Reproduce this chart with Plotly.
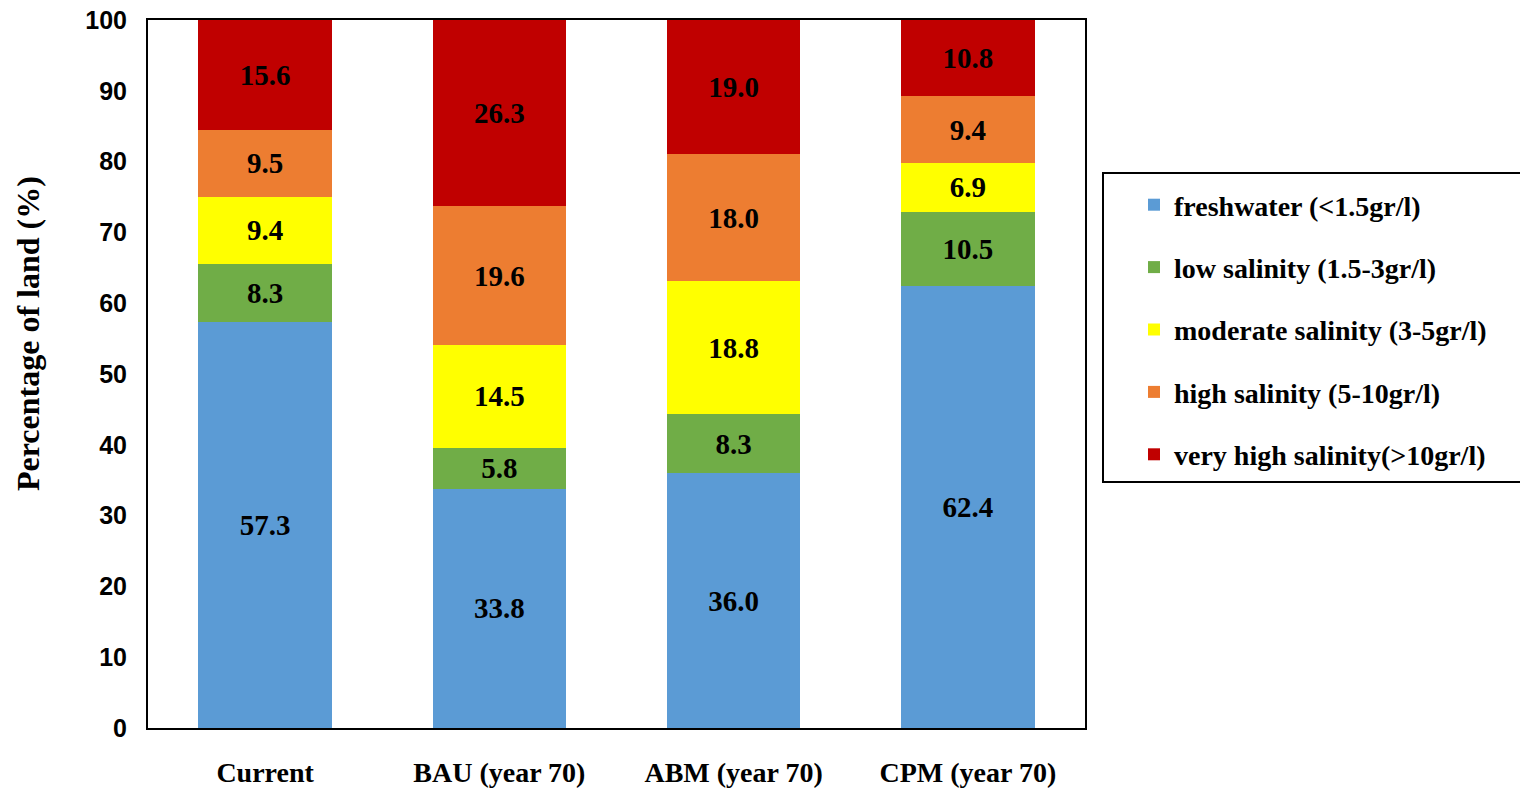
import plotly.graph_objects as go

# Scenario categories along the x axis
scenarios = ["Current", "BAU (year 70)", "ABM (year 70)", "CPM (year 70)"]

# Share of land (%) in each salinity class, per scenario
freshwater = [57.3, 33.8, 36.0, 62.4]
low_salinity = [8.3, 5.8, 8.3, 10.5]
moderate_salinity = [9.4, 14.5, 18.8, 6.9]
high_salinity = [9.5, 19.6, 18.0, 9.4]
very_high_salinity = [15.6, 26.3, 19.0, 10.8]

series_names = [
    "freshwater (<1.5gr/l)",
    "low salinity (1.5-3gr/l)",
    "moderate salinity (3-5gr/l)",
    "high salinity (5-10gr/l)",
    "very high salinity(>10gr/l)",
]
series_values = [freshwater, low_salinity, moderate_salinity, high_salinity, very_high_salinity]
series_colors = ["#5B9BD5", "#70AD47", "#FFFF00", "#ED7D31", "#C00000"]

y_ticks = list(range(0, 101, 10))
y_title = "Percentage of land (%)"

SERIF = "Liberation Serif, Times New Roman, serif"
SANS = "Liberation Sans, Arial, sans-serif"

W, H = 1520, 792
L, R, T, B = 148, 435, 20, 64
plot_w = W - L - R
plot_h = H - T - B


def px_to_paper_x(px):
    return (px - L) / plot_w


def px_to_paper_y(py):
    return (H - B - py) / plot_h


fig = go.Figure()
for i, (name, vals, color) in enumerate(zip(series_names, series_values, series_colors)):
    fig.add_trace(
        go.Bar(
            x=scenarios,
            y=vals,
            name=name,
            legendgroup=f"g{i}",
            marker=dict(color=color, line=dict(width=0)),
            text=[f"{v:.1f}" for v in vals],
            textposition="inside",
            insidetextanchor="middle",
            textangle=0,
            textfont=dict(family=SERIF, size=29, color="black", weight="bold"),
        )
    )

fig.update_layout(
    width=W,
    height=H,
    barmode="stack",
    bargap=0.43,
    plot_bgcolor="white",
    paper_bgcolor="white",
    margin=dict(l=L, r=R, t=T, b=B, pad=0, autoexpand=False),
    uniformtext=dict(mode=False),
    showlegend=True,
    legend=dict(
        x=px_to_paper_x(1134),
        y=px_to_paper_y(180),
        xanchor="left",
        yanchor="top",
        traceorder="grouped",
        tracegroupgap=23,
        bgcolor="rgba(0,0,0,0)",
        borderwidth=0,
        font=dict(family=SERIF, size=28, color="black", weight="bold"),
    ),
    shapes=[
        dict(
            type="rect",
            xref="paper",
            yref="paper",
            x0=px_to_paper_x(1103),
            x1=px_to_paper_x(1530),
            y0=px_to_paper_y(482),
            y1=px_to_paper_y(173),
            line=dict(color="black", width=2),
            fillcolor="rgba(0,0,0,0)",
            layer="below",
        )
    ],
    annotations=[
        dict(
            text=y_title,
            xref="paper",
            yref="paper",
            x=px_to_paper_x(28),
            y=px_to_paper_y(334),
            xanchor="center",
            yanchor="middle",
            textangle=-90,
            showarrow=False,
            font=dict(family=SERIF, size=32, color="black", weight="bold"),
        )
    ],
)

fig.update_xaxes(
    automargin=False,
    showline=True,
    linecolor="black",
    linewidth=2,
    mirror=True,
    showgrid=False,
    ticks="",
    ticklabelstandoff=18,
    tickfont=dict(family=SERIF, size=28, color="black", weight="bold"),
)

fig.update_yaxes(
    automargin=False,
    range=[0, 100],
    tickvals=y_ticks,
    showline=True,
    linecolor="black",
    linewidth=2,
    mirror=True,
    showgrid=False,
    zeroline=False,
    ticks="",
    ticklabelstandoff=14,
    tickfont=dict(family=SANS, size=25, color="black", weight="bold"),
)

fig.write_html("out.html")
